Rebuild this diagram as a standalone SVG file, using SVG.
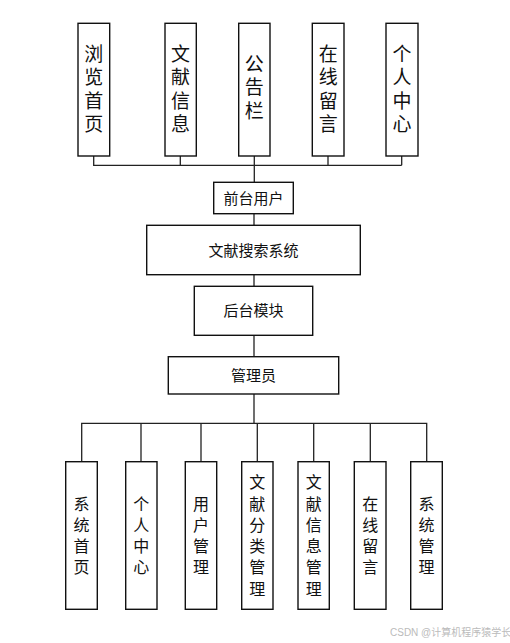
<svg xmlns="http://www.w3.org/2000/svg" width="510" height="643" viewBox="0 0 510 643">
<style>
.box{fill:#fff;stroke:#111;stroke-width:1.4}
.ln{fill:none;stroke:#222;stroke-width:1.3}
.t{font-family:"Liberation Sans","Noto Sans CJK SC",sans-serif;fill:#111;text-anchor:middle;dominant-baseline:central}
.tt{font-size:19px}
.tm{font-size:15px}
.tb{font-size:16px}
.wm{font-family:"Liberation Sans","Noto Sans CJK SC",sans-serif;font-size:10px;fill:#bbb}
</style>
<rect width="510" height="643" fill="#fff"/>
<g id="connectors">
<path class="ln" d="M93.7 156V165.3H401.7M180.3 156V165.3M254.3 156V183M328 156V165.3M401.7 156V165.3"/>
<path class="ln" d="M254 213.7V225.3M254 274.7V286.3M254 335.3V356.7M254 394V423.3"/>
<path class="ln" d="M81.7 461.7V423.3H426.7V461.7M141 423.3V461.7M201 423.3V461.7M257.3 423.3V461.7M313.7 423.3V461.7M370.3 423.3V461.7"/>
</g>
<g id="n_liulan"><rect class="box" x="78" y="23.3" width="31.7" height="132.7"/>
<text class="t tt"><tspan x="93.8" y="54">浏</tspan><tspan x="93.8" y="77.3">览</tspan><tspan x="93.8" y="100.6">首</tspan><tspan x="93.8" y="123.9">页</tspan></text></g>
<g id="n_wenxian"><rect class="box" x="165" y="23.3" width="31.3" height="132.7"/>
<text class="t tt"><tspan x="180.6" y="54">文</tspan><tspan x="180.6" y="77.3">献</tspan><tspan x="180.6" y="100.6">信</tspan><tspan x="180.6" y="123.9">息</tspan></text></g>
<g id="n_gonggao"><rect class="box" x="238.7" y="23.3" width="31.3" height="132.7"/>
<text class="t tt"><tspan x="254.3" y="64">公</tspan><tspan x="254.3" y="87.3">告</tspan><tspan x="254.3" y="110.6">栏</tspan></text></g>
<g id="n_liuyan"><rect class="box" x="312.3" y="23.3" width="31.7" height="132.7"/>
<text class="t tt"><tspan x="328.2" y="54">在</tspan><tspan x="328.2" y="77.3">线</tspan><tspan x="328.2" y="100.6">留</tspan><tspan x="328.2" y="123.9">言</tspan></text></g>
<g id="n_geren"><rect class="box" x="386" y="23.3" width="32" height="132.7"/>
<text class="t tt"><tspan x="402" y="54">个</tspan><tspan x="402" y="77.3">人</tspan><tspan x="402" y="100.6">中</tspan><tspan x="402" y="123.9">心</tspan></text></g>
<g id="n_qiantai"><rect class="box" x="213.7" y="182.3" width="79.6" height="31.4"/>
<text class="t tm" x="253.5" y="198">前台用户</text></g>
<g id="n_system"><rect class="box" x="146.7" y="225.3" width="213.6" height="49.4"/>
<text class="t tm" x="253.5" y="250">文献搜索系统</text></g>
<g id="n_houtai"><rect class="box" x="194.3" y="286.3" width="118.4" height="49"/>
<text class="t tm" x="253.5" y="310.8">后台模块</text></g>
<g id="n_admin"><rect class="box" x="168.3" y="356.7" width="170.4" height="37.3"/>
<text class="t tm" x="253.5" y="375.3">管理员</text></g>
<g id="b1"><rect class="box" x="65.7" y="461.7" width="31.6" height="147.6"/>
<text class="t tb"><tspan x="81.5" y="503.5">系</tspan><tspan x="81.5" y="524.8">统</tspan><tspan x="81.5" y="546.1">首</tspan><tspan x="81.5" y="567.4">页</tspan></text></g>
<g id="b2"><rect class="box" x="125.7" y="461.7" width="31.3" height="147.6"/>
<text class="t tb"><tspan x="141.3" y="503.5">个</tspan><tspan x="141.3" y="524.8">人</tspan><tspan x="141.3" y="546.1">中</tspan><tspan x="141.3" y="567.4">心</tspan></text></g>
<g id="b3"><rect class="box" x="185.3" y="461.7" width="31.4" height="147.6"/>
<text class="t tb"><tspan x="201" y="503.5">用</tspan><tspan x="201" y="524.8">户</tspan><tspan x="201" y="546.1">管</tspan><tspan x="201" y="567.4">理</tspan></text></g>
<g id="b4"><rect class="box" x="241.7" y="461.7" width="31.3" height="147.6"/>
<text class="t tb"><tspan x="257.3" y="482.2">文</tspan><tspan x="257.3" y="503.5">献</tspan><tspan x="257.3" y="524.8">分</tspan><tspan x="257.3" y="546.1">类</tspan><tspan x="257.3" y="567.4">管</tspan><tspan x="257.3" y="588.7">理</tspan></text></g>
<g id="b5"><rect class="box" x="298" y="461.7" width="31.3" height="147.6"/>
<text class="t tb"><tspan x="313.7" y="482.2">文</tspan><tspan x="313.7" y="503.5">献</tspan><tspan x="313.7" y="524.8">信</tspan><tspan x="313.7" y="546.1">息</tspan><tspan x="313.7" y="567.4">管</tspan><tspan x="313.7" y="588.7">理</tspan></text></g>
<g id="b6"><rect class="box" x="354.3" y="461.7" width="31.7" height="147.6"/>
<text class="t tb"><tspan x="370.2" y="503.5">在</tspan><tspan x="370.2" y="524.8">线</tspan><tspan x="370.2" y="546.1">留</tspan><tspan x="370.2" y="567.4">言</tspan></text></g>
<g id="b7"><rect class="box" x="410.7" y="461.7" width="31.6" height="147.6"/>
<text class="t tb"><tspan x="426.5" y="503.5">系</tspan><tspan x="426.5" y="524.8">统</tspan><tspan x="426.5" y="546.1">管</tspan><tspan x="426.5" y="567.4">理</tspan></text></g>
<text class="wm" x="390" y="636">CSDN @计算机程序猿学长</text>
</svg>
